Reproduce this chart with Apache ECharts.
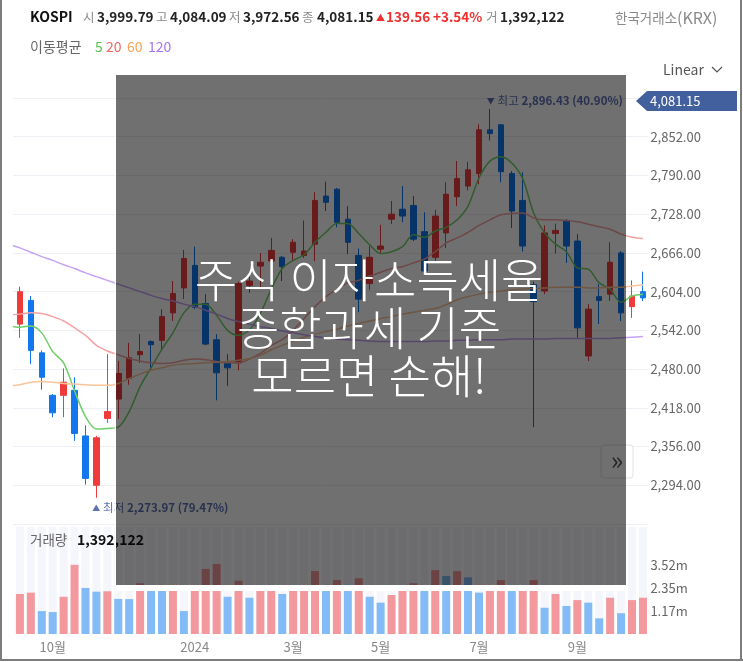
<!DOCTYPE html>
<html>
<head>
<meta charset="utf-8">
<script src="https://cdn.jsdelivr.net/npm/echarts@6/dist/echarts.min.js"></script>
<style>
  html, body { margin: 0; padding: 0; background: #fff; }
  #main { width: 743px; height: 662px; }
</style>
</head>
<body>
<div id="main"></div>
<script>
// weekly KOSPI, first week only feeds the moving-average lines at the left edge
var categories = [
  '2023-09-04', '2023-09-11', '2023-09-18', '2023-09-25', '2023-10-02', '2023-10-09', '2023-10-16', '2023-10-23',
  '2023-10-30', '2023-11-06', '2023-11-13', '2023-11-20', '2023-11-27', '2023-12-04', '2023-12-11', '2023-12-18',
  '2023-12-25', '2024-01-01', '2024-01-08', '2024-01-15', '2024-01-22', '2024-01-29', '2024-02-05', '2024-02-12',
  '2024-02-19', '2024-02-26', '2024-03-04', '2024-03-11', '2024-03-18', '2024-03-25', '2024-04-01', '2024-04-08',
  '2024-04-15', '2024-04-22', '2024-04-29', '2024-05-06', '2024-05-13', '2024-05-20', '2024-05-27', '2024-06-03',
  '2024-06-10', '2024-06-17', '2024-06-24', '2024-07-01', '2024-07-08', '2024-07-15', '2024-07-22', '2024-07-29',
  '2024-08-05', '2024-08-12', '2024-08-19', '2024-08-26', '2024-09-02', '2024-09-09', '2024-09-16', '2024-09-23',
  '2024-09-30', '2024-10-07', '2024-10-14'
];

var tickLabels = [
  ['2023-10-02', '10월'], ['2024-01-01', '2024'], ['2024-03-04', '3월'],
  ['2024-04-29', '5월'], ['2024-07-01', '7월'], ['2024-09-02', '9월']
];

var opens = [null,
  2552, 2590, 2506, 2438, 2438, 2446, 2373, 2294, 2401, 2432,
  2465, 2503, 2524, 2526, 2570, 2610, 2646, 2585, 2527, 2490,
  2490, 2614, 2645, 2653, 2659, 2667, 2662, 2680, 2757, 2768,
  2720, 2662, 2617, 2672, 2720, 2736, 2742, 2700, 2659, 2698,
  2756, 2773, 2793, 2863, 2871, 2793, 2750, 2615, 2605, 2697,
  2718, 2685, 2501, 2596, 2600, 2666, 2580, 2604];
var highs = [null,
  2612, 2597, 2510, 2440, 2481, 2467, 2390, 2373, 2504, 2493,
  2522, 2536, 2526, 2576, 2621, 2671, 2676, 2600, 2536, 2504,
  2620, 2634, 2666, 2690, 2661, 2688, 2718, 2763, 2780, 2770,
  2741, 2673, 2677, 2711, 2749, 2773, 2757, 2731, 2735, 2779,
  2813, 2812, 2872, 2896.43, 2872, 2797, 2795, 2620, 2710, 2713,
  2720, 2696, 2584, 2616, 2683, 2669, 2622, 2636];
var lows = [null,
  2530, 2488, 2447, 2403, 2403, 2365, 2295, 2273.97, 2394, 2400,
  2455, 2490, 2482, 2512, 2557, 2592, 2576, 2518, 2430, 2453,
  2478, 2602, 2610, 2637, 2621, 2653, 2658, 2653, 2733, 2707,
  2664, 2571, 2607, 2664, 2712, 2715, 2685, 2630, 2650, 2674,
  2741, 2766, 2776, 2846, 2779, 2706, 2668, 2387, 2600, 2665,
  2650, 2530, 2493, 2552, 2589, 2557, 2562, 2589];
var closes = [null,
  2604, 2510, 2467, 2410, 2459, 2377, 2305, 2370, 2412, 2473,
  2498, 2508, 2519, 2564, 2601, 2657, 2579, 2520, 2474, 2482,
  2617, 2621, 2651, 2670, 2644, 2683, 2669, 2750, 2747, 2715,
  2683, 2592, 2659, 2677, 2728, 2725, 2688, 2637, 2725, 2760,
  2785, 2799, 2863, 2857, 2796, 2733, 2677, 2588, 2698, 2702,
  2677, 2546, 2576, 2590, 2651, 2570, 2597, 2594];

// volume in millions
var volumes = [null,
  2.04, 2.11, 1.17, 1.12, 1.90, 3.53, 2.35, 2.16, 2.18, 1.79,
  1.78, 2.59, 2.35, 2.30, 2.40, 1.17, 2.35, 3.32, 3.57, 1.90,
  2.72, 1.85, 2.35, 2.40, 2.04, 2.35, 2.45, 3.21, 2.40, 2.75,
  2.40, 2.84, 1.90, 1.60, 1.99, 2.30, 2.59, 2.40, 3.26, 2.96,
  3.21, 2.89, 2.11, 2.30, 2.75, 2.40, 2.45, 2.75, 1.34, 2.04,
  1.43, 1.73, 1.60, 0.80, 1.85, 1.06, 1.73, 1.85];

var ma5 = [2549,
  2547, 2549, 2538, 2508, 2490, 2445, 2404, 2384, 2385, 2387,
  2412, 2452, 2482, 2512, 2538, 2570, 2584, 2584, 2566, 2542,
  2534, 2543, 2569, 2608, 2641, 2654, 2663, 2683, 2699, 2713,
  2713, 2697, 2679, 2665, 2668, 2676, 2695, 2691, 2701, 2707,
  2719, 2741, 2786, 2813, 2820, 2810, 2785, 2730, 2698, 2680,
  2668, 2642, 2640, 2618, 2608, 2587, 2597, 2600];
var ma20 = [2567,
  2568, 2570, 2569, 2564, 2557, 2546, 2534, 2518, 2509, 2503,
  2497, 2493, 2490, 2489, 2490, 2494, 2496, 2495, 2492, 2490,
  2490, 2496, 2505, 2518, 2527, 2542, 2561, 2580, 2596, 2608,
  2618, 2622, 2629, 2635, 2641, 2644, 2650, 2656, 2668, 2682,
  2690, 2699, 2710, 2719, 2727, 2729, 2730, 2722, 2719, 2719,
  2718, 2716, 2712, 2708, 2704, 2696, 2691, 2689];
var ma60 = [2453,
  2455, 2459, 2460, 2459, 2457, 2456, 2455, 2454, 2454, 2457,
  2465, 2472, 2478, 2482, 2486, 2488, 2489, 2490, 2491, 2492,
  2494, 2497, 2502, 2511, 2518, 2525, 2531, 2536, 2540, 2544,
  2549, 2553, 2557, 2561, 2564, 2568, 2571, 2574, 2577, 2583,
  2591, 2596, 2600, 2603, 2605, 2607, 2608, 2609, 2610, 2611,
  2611, 2611, 2610, 2610, 2611, 2611, 2613, 2615];
var ma120 = [2680,
  2674, 2667, 2660, 2654, 2647, 2641, 2634, 2628, 2622, 2616,
  2610, 2604, 2598, 2593, 2589, 2584, 2580, 2574, 2568, 2561,
  2556, 2552, 2548, 2545, 2541, 2538, 2535, 2532, 2530, 2528,
  2527, 2526, 2525, 2524, 2524, 2524, 2524, 2524, 2525, 2525,
  2526, 2526, 2527, 2527, 2527, 2528, 2528, 2528, 2528, 2529,
  2529, 2529, 2529, 2529, 2529, 2530, 2531, 2532];

var FONT = '"Noto Sans CJK KR", "Noto Sans", sans-serif';
var UP = '#f03b3b', DOWN = '#1276ec';
var MARK = '#5d71b3';

var tickMap = {};
tickLabels.forEach(function (t) { tickMap[t[0]] = t[1]; });

var candleData = categories.map(function (c, i) {
  return opens[i] == null ? '-' : [opens[i], closes[i], lows[i], highs[i]];
});
var volData = volumes.map(function (v) { return v == null ? '-' : v; });

function fmtPrice(v) {
  return v.toLocaleString('en-US', { minimumFractionDigits: 2, maximumFractionDigits: 2 });
}

function txt(x, y, s, color, size, weight, align) {
  return {
    type: 'text', x: x, y: y, z: 50,
    style: {
      text: s, fill: color, fontSize: size || 14, fontWeight: weight || 'normal',
      fontFamily: FONT, align: align || 'left', textAlign: align || 'left',
      verticalAlign: 'middle', textVerticalAlign: 'middle'
    }
  };
}

var chart = echarts.init(document.getElementById('main'));

var maSeries = [[ma5, '#6fcf67'], [ma20, '#f6a2a2'], [ma60, '#fac499'], [ma120, '#c6a2f6']].map(function (m) {
  return {
    type: 'line', xAxisIndex: 0, yAxisIndex: 0, data: m[0],
    showSymbol: false, smooth: 0.3, silent: true,
    lineStyle: { color: m[1], width: 1.5 }
  };
});

var graphics = [
  // hide the partial week cut off at the left edge
  { type: 'rect', z: 50, shape: { x: 0, y: 88, width: 13, height: 552 }, style: { fill: '#fff' } },

  txt(30, 17, 'KOSPI', '#111', 14, 'bold'),
  txt(83, 17, '시', '#8a8a8a', 12.5), txt(97, 17, '3,999.79', '#222', 13.5, 'bold'),
  txt(156, 17, '고', '#8a8a8a', 12.5), txt(170, 17, '4,084.09', '#222', 13.5, 'bold'),
  txt(229, 17, '저', '#8a8a8a', 12.5), txt(243, 17, '3,972.56', '#222', 13.5, 'bold'),
  txt(302, 17, '종', '#8a8a8a', 12.5), txt(317, 17, '4,081.15', '#222', 13.5, 'bold'),
  txt(376, 18, '▲', '#ee3030', 9), txt(386, 17, '139.56', '#ee3030', 13.5, 'bold'),
  txt(433, 17, '+3.54%', '#ee3030', 13.5, 'bold'),
  txt(486, 17, '거', '#8a8a8a', 12.5), txt(500, 17, '1,392,122', '#222', 13.5, 'bold'),
  txt(615, 18, '한국거래소', '#8a8a8a', 13.5),
  txt(677, 18, '(KRX)', '#8a8a8a', 16),

  txt(30, 47, '이동평균', '#666'),
  txt(95, 47, '5', '#58c24e'), txt(106, 47, '20', '#f56767'),
  txt(127, 47, '60', '#f8a257'), txt(148, 47, '120', '#a874f4'),

  txt(663, 70, 'Linear', '#555'),
  { type: 'polyline', z: 50, shape: { points: [[712, 67], [717, 72], [722, 67]] },
    style: { stroke: '#555', lineWidth: 1.2, fill: null } },

  // current price tag
  { type: 'polygon', z: 50, shape: { points: [[636, 101], [647, 91], [737, 91], [737, 111], [647, 111]] },
    style: { fill: '#43609e' } },
  txt(650, 101, '4,081.15', '#fff', 13),

  txt(30, 540, '거래량', '#666', 13.5),
  txt(77, 540, '1,392,122', '#111', 14, 'bold'),

  // scroll button
  { type: 'rect', z: 60, shape: { x: 601, y: 445, width: 32, height: 33, r: 3 },
    style: { fill: '#fff', stroke: '#e2e2e2', lineWidth: 1 } },
  { type: 'text', z: 61, x: 617, y: 460,
    style: { text: '»', fill: '#555', fontSize: 26, fontFamily: FONT,
      align: 'center', textAlign: 'center', verticalAlign: 'middle', textVerticalAlign: 'middle' } },

  // dark overlay with headline
  { type: 'rect', z: 100, shape: { x: 116, y: 75, width: 510, height: 510 },
    style: { fill: 'rgba(0,0,0,0.56)' } },
  { type: 'rect', z: 101, shape: { x: 114.8, y: 75, width: 1.2, height: 516 }, style: { fill: '#fff' } },
  { type: 'rect', z: 101, shape: { x: 114.8, y: 585, width: 511.2, height: 6 }, style: { fill: '#fff' } }
];

['주식 이자소득세율', '종합과세 기준', '모르면 손해!'].forEach(function (line, i) {
  graphics.push({
    type: 'text', z: 102, x: 369, y: 280 + i * 48,
    style: { text: line, fill: '#fff', fontSize: 46, fontWeight: 300, fontFamily: FONT,
      align: 'center', textAlign: 'center', verticalAlign: 'middle', textVerticalAlign: 'middle' }
  });
});

// outer frame
[[1, 0, 1, 661], [741, 0, 741, 661], [0, 660, 743, 660]].forEach(function (l) {
  graphics.push({ type: 'line', z: 200, shape: { x1: l[0], y1: l[1], x2: l[2], y2: l[3] },
    style: { stroke: '#7d7d7d', lineWidth: 2 } });
});

var markRich = {
  t: { color: MARK, fontSize: 8 },
  k: { color: MARK, fontSize: 11.5 },
  n: { color: MARK, fontSize: 11.5, fontWeight: 'bold' }
};

chart.setOption({
  animation: false,
  textStyle: { fontFamily: FONT },
  grid: [
    { left: 3.5, right: 94.6, top: 98, height: 426 },
    { left: 3.5, right: 94.6, top: 527, height: 107 }
  ],
  xAxis: [
    { type: 'category', gridIndex: 0, data: categories, show: false, boundaryGap: true },
    {
      type: 'category', gridIndex: 1, data: categories, boundaryGap: true,
      axisLine: { show: false }, axisTick: { show: false },
      axisLabel: {
        color: '#888', fontSize: 13, margin: 7,
        interval: function (idx, val) { return tickMap[val] !== undefined; },
        formatter: function (val) { return tickMap[val] || ''; }
      }
    }
  ],
  yAxis: [
    {
      type: 'value', gridIndex: 0, position: 'right', min: 2232, max: 2914, interval: 62,
      axisLine: { show: false }, axisTick: { show: false },
      splitLine: { lineStyle: { color: '#eef0f5', width: 1 } },
      axisLabel: {
        color: '#666', fontSize: 13, margin: 2,
        formatter: function (v) { return (v < 2290 || v > 2860) ? '' : fmtPrice(v); }
      }
    },
    {
      type: 'value', gridIndex: 1, position: 'right', min: 0, max: 5.4585, interval: 1.173333,
      axisLine: { show: false }, axisTick: { show: false }, splitLine: { show: false },
      axisLabel: {
        color: '#666', fontSize: 13, margin: 2,
        formatter: function (v) { return (v > 0.5 && v < 4) ? v.toFixed(2) + 'm' : ''; }
      }
    }
  ],
  series: [
    {
      type: 'candlestick', xAxisIndex: 0, yAxisIndex: 0, data: candleData, barWidth: 6,
      itemStyle: { color: UP, color0: DOWN, borderColor: UP, borderColor0: DOWN, borderWidth: 1 },
      markPoint: {
        symbol: 'circle', symbolSize: 0.1, itemStyle: { color: 'transparent' },
        data: [
          {
            coord: ['2024-07-08', 2896.43],
            label: {
              show: true, position: [-3, -8], align: 'left', verticalAlign: 'middle',
              formatter: '{t|▼} {k|최고} {n|2,896.43 (40.90%)}', rich: markRich
            }
          },
          {
            coord: ['2023-10-30', 2273.97],
            label: {
              show: true, position: [-4, 10], align: 'left', verticalAlign: 'middle',
              formatter: '{t|▲} {k|최저} {n|2,273.97 (79.47%)}', rich: markRich
            }
          }
        ]
      }
    }
  ].concat(maSeries).concat([
    {
      type: 'bar', xAxisIndex: 1, yAxisIndex: 1, data: volData, barWidth: 8,
      showBackground: true, backgroundStyle: { color: '#f5f6fc' },
      itemStyle: {
        color: function (p) {
          var i = p.dataIndex, prev = volumes[i - 1];
          return (prev == null || volumes[i] >= prev) ? '#f3989c' : '#83bbf6';
        }
      }
    }
  ]),
  graphic: { elements: graphics }
});
</script>
</body>
</html>
